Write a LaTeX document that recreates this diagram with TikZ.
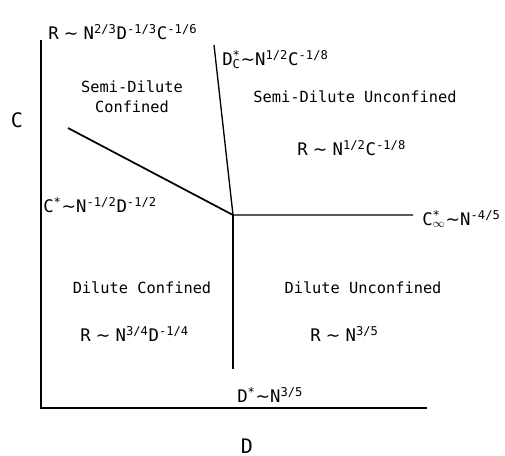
\documentclass[tikz,border=0pt]{standalone}
\usepackage{fontspec}
\setmainfont{DejaVu Sans Mono}
\newfontfamily\symfont{DejaVu Sans}
\usepackage{tikz}

\newcommand{\sm}{{\symfont\char"223C}}
\newcommand{\ssm}{\hspace{0.3em}\sm\hspace{0.3em}}
\newcommand{\up}[1]{\textsuperscript{#1}}

\begin{document}
\begin{tikzpicture}[x=0.75pt, y=-0.75pt,
    region/.style={font=\fontsize{11.5}{15}\selectfont, align=center},
    law/.style={font=\fontsize{13}{15}\selectfont, anchor=base west, inner sep=0pt},
    axlabel/.style={font=\fontsize{15}{17}\selectfont, inner sep=0pt}]
    \useasboundingbox (0,0) rectangle (505,455);
    % corner points
    \coordinate (top) at (41,40);
    \coordinate (orig) at (41,408);
    \coordinate (right) at (427,408);
    \coordinate (tp) at (233,215);
    \coordinate (dc) at (214,45);
    \coordinate (cs) at (68,128);
    \coordinate (cinf) at (413,215);
    \coordinate (ds) at (233,369);
    % axes
    \draw[line width=0.9pt] (top) -- (orig) -- (right);
    % boundaries
    \draw[line width=1.3pt] (cs) -- (tp);
    \draw[line width=1pt] (dc) -- (tp) -- (cinf);
    \draw[line width=1pt] (tp) -- (ds);
    % axis labels
    \node[axlabel] (clab) at (17,120) {C};
    \node[axlabel] (dlab) at (247,446) {D};
    % laws
    \node[law] (rtop) at (48,39) {R\ssm N\up{2/3}D\up{-1/3}C\up{-1/6}};
    \node[law] (dclab) at (222,65) {D\rlap{\up{*}}\textsubscript{C}\sm N\up{1/2}C\up{-1/8}};
    \node[law] (cslab) at (43,212) {C\up{*}\sm N\up{-1/2}D\up{-1/2}};
    \node[law] (cinflab) at (422,225) {C\rlap{\up{*}}\textsubscript{$\infty$}\sm N\up{-4/5}};
    \node[law] (dslab) at (237,402) {D\up{*}\sm N\up{3/5}};
    % regions
    \node[region] (sdc) at (132,97) {Semi-Dilute\\Confined};
    \node[region] (sdu) at (355,97) {Semi-Dilute Unconfined};
    \node[law] (rsdu) at (297,155) {R\ssm N\up{1/2}C\up{-1/8}};
    \node[region] (dcf) at (142,288) {Dilute Confined};
    \node[law] (rdc) at (80,341) {R\ssm N\up{3/4}D\up{-1/4}};
    \node[region] (duc) at (363,288) {Dilute Unconfined};
    \node[law] (rdu) at (310,341) {R\ssm N\up{3/5}};
\end{tikzpicture}
\end{document}
